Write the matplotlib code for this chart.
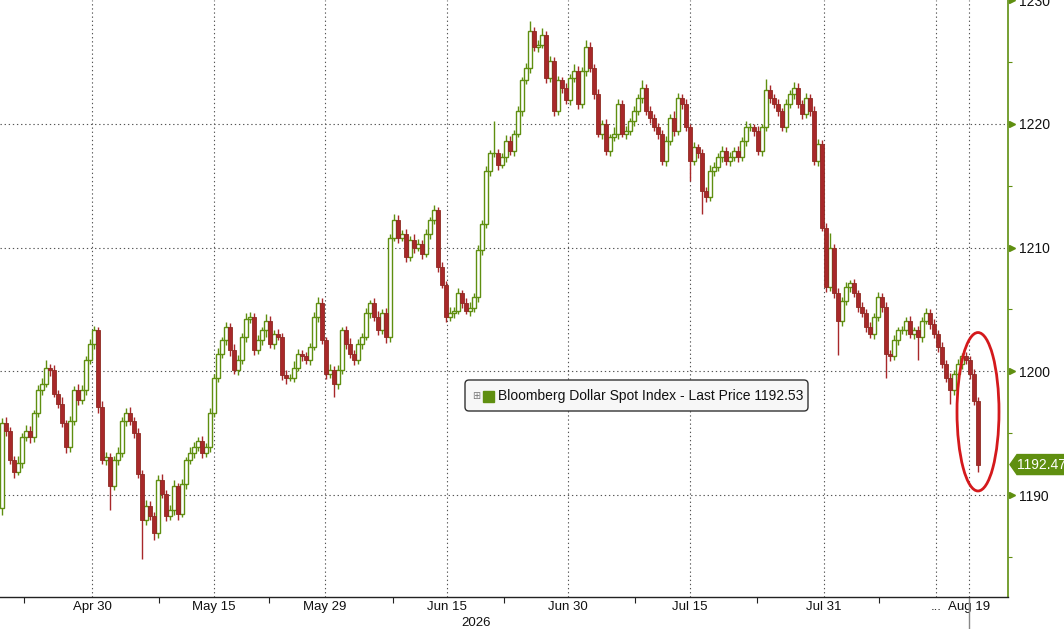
import numpy as np
import matplotlib
matplotlib.use('Agg')
import matplotlib.pyplot as plt
from matplotlib.patches import Ellipse, FancyBboxPatch, Polygon, Rectangle
from matplotlib.transforms import IdentityTransform, blended_transform_factory

# candle closes (roughly 2.75 candles per trading day)
closes = [
    1195.8, 1195.2, 1192.8, 1191.9, 1192.6, 1194.7, 1195.2, 1194.7, 1196.6, 1198.5,
    1199.0, 1200.3, 1200.1, 1198.2, 1197.4, 1195.8, 1193.9, 1196.0, 1198.5, 1197.7,
    1198.5, 1200.9, 1202.2, 1203.3, 1197.1, 1192.8, 1193.1, 1190.7, 1192.8, 1193.4,
    1196.0, 1196.6, 1196.0, 1195.0, 1191.7, 1188.0, 1189.1, 1188.3, 1186.9, 1191.2,
    1190.1, 1188.3, 1188.8, 1190.7, 1188.5, 1190.9, 1192.8, 1193.4, 1193.9, 1194.4,
    1193.4, 1193.9, 1196.6, 1199.5, 1201.4, 1202.5, 1203.6, 1201.7, 1200.1, 1200.9,
    1202.8, 1204.2, 1204.4, 1201.7, 1202.5, 1203.3, 1204.1, 1202.2, 1203.0, 1202.8,
    1199.7, 1199.5, 1199.5, 1200.3, 1201.4, 1201.2, 1200.9, 1202.0, 1204.4, 1205.5,
    1202.5, 1199.8, 1200.1, 1199.0, 1200.1, 1203.3, 1202.2, 1201.4, 1200.9, 1202.2,
    1202.8, 1204.7, 1205.5, 1204.4, 1203.3, 1204.7, 1202.8, 1210.8, 1212.2, 1210.8,
    1211.1, 1209.2, 1210.6, 1210.0, 1210.3, 1209.5, 1211.1, 1212.2, 1213.0, 1208.4,
    1207.0, 1204.4, 1204.7, 1204.9, 1206.3, 1205.5, 1204.9, 1205.1, 1206.0, 1209.8,
    1211.9, 1216.2, 1217.6, 1217.6, 1216.7, 1217.3, 1218.6, 1217.8, 1219.2, 1221.0,
    1223.5, 1224.5, 1227.5, 1226.2, 1226.4, 1227.2, 1223.7, 1225.1, 1221.0, 1223.5,
    1222.9, 1221.9, 1223.7, 1224.3, 1221.6, 1224.3, 1226.2, 1224.5, 1222.4, 1219.2,
    1220.0, 1217.8, 1218.9, 1219.2, 1221.6, 1219.2, 1219.4, 1220.2, 1221.0, 1222.1,
    1222.9, 1221.0, 1220.5, 1219.7, 1219.2, 1217.0, 1218.6, 1220.5, 1219.4, 1222.1,
    1221.6, 1219.7, 1217.0, 1218.1, 1217.6, 1214.6, 1214.1, 1216.2, 1216.5, 1217.3,
    1217.8, 1217.0, 1217.3, 1217.8, 1217.3, 1218.6, 1219.7, 1219.7, 1219.4, 1217.8,
    1219.7, 1222.7, 1222.1, 1221.6, 1221.0, 1219.7, 1221.6, 1222.4, 1222.9, 1221.6,
    1220.8, 1222.1, 1221.0, 1217.0, 1218.4, 1211.6, 1206.8, 1210.0, 1206.3, 1204.1,
    1205.7, 1206.8, 1207.1, 1206.3, 1205.2, 1204.7, 1203.6, 1203.0, 1204.4, 1206.0,
    1205.2, 1201.4, 1201.2, 1202.5, 1203.3, 1203.3, 1204.1, 1203.0, 1203.3, 1202.8,
    1204.1, 1204.7, 1203.8, 1203.0, 1202.0, 1200.6, 1199.5, 1198.5, 1199.8, 1200.6,
    1201.2, 1200.9, 1199.8, 1197.6, 1192.47,
]
first_open = 1189.0

# wick lengths above / below the body
wick_hi = [
    0.4, 0.5, 0.3, 0.4, 0.6, 0.3, 0.5, 0.4, 0.3, 0.4,
    0.5, 0.6, 0.3, 0.4, 0.3, 0.5, 0.3, 0.4, 0.3, 0.5,
    0.4, 0.3, 0.4, 0.4, 0.3, 0.5, 0.4, 0.3, 0.4, 0.5,
    0.3, 0.4, 0.5, 0.3, 0.4, 0.3, 0.5, 0.4, 0.3, 0.4,
    0.5, 0.3, 0.4, 0.5, 0.3, 0.4, 0.3, 0.5, 0.4, 0.3,
    0.4, 0.3, 0.4, 0.3, 0.5, 0.3, 0.4, 0.3, 0.5, 0.4,
    0.3, 0.5, 0.4, 0.3, 0.4, 0.3, 0.5, 0.4, 0.3, 0.4,
    0.3, 0.4, 0.3, 0.5, 0.4, 0.3, 0.4, 0.3, 0.4, 0.5,
    0.4, 0.3, 0.5, 0.3, 0.4, 0.3, 0.4, 0.5, 0.3, 0.4,
    0.3, 0.4, 0.3, 0.4, 0.5, 0.3, 0.4, 0.3, 0.5, 0.4,
    0.3, 0.4, 0.3, 0.5, 0.4, 0.3, 0.4, 0.3, 0.4, 0.3,
    0.4, 0.3, 0.5, 0.3, 0.4, 0.3, 0.4, 0.5, 0.3, 0.4,
    0.3, 0.4, 0.3, 2.6, 0.4, 0.3, 0.5, 0.4, 0.3, 0.4,
    0.3, 0.4, 0.8, 0.3, 0.4, 0.5, 0.3, 0.4, 0.3, 0.4,
    0.3, 0.4, 0.3, 0.5, 0.4, 0.3, 0.6, 0.4, 0.3, 0.4,
    0.3, 0.4, 0.3, 0.5, 0.4, 0.3, 0.4, 0.3, 0.4, 0.3,
    0.6, 0.3, 0.4, 0.3, 0.4, 0.3, 0.4, 0.3, 0.5, 0.4,
    0.3, 0.4, 0.3, 0.4, 0.3, 0.4, 0.3, 0.5, 0.4, 0.3,
    0.4, 0.3, 0.4, 0.3, 0.4, 0.3, 0.5, 0.4, 0.3, 0.4,
    0.3, 0.9, 0.4, 0.3, 0.4, 0.3, 0.4, 0.3, 0.5, 0.4,
    0.3, 0.4, 0.3, 0.4, 0.4, 0.3, 0.4, 1.2, 0.3, 0.4,
    0.3, 0.4, 0.3, 0.4, 0.3, 0.4, 0.3, 0.4, 0.3, 0.4,
    0.3, 0.4, 0.3, 0.4, 0.3, 0.4, 0.3, 0.4, 0.3, 0.4,
    0.3, 0.4, 0.3, 0.4, 0.3, 0.4, 0.3, 0.4, 0.3, 0.4,
    0.3, 0.4, 0.3, 0.4, 0.3,
]
wick_lo = [
    0.6, 0.4, 0.3, 0.5, 0.3, 0.4, 0.3, 0.5, 0.4, 0.3,
    0.4, 0.3, 0.5, 0.3, 0.4, 0.3, 0.5, 0.4, 0.3, 0.4,
    0.3, 0.4, 0.3, 0.4, 0.5, 0.3, 0.4, 1.9, 0.3, 0.4,
    0.3, 0.4, 0.3, 0.4, 0.3, 3.2, 0.4, 0.3, 0.5, 0.4,
    0.3, 0.4, 0.3, 0.4, 0.5, 0.3, 0.4, 0.3, 0.4, 0.3,
    0.4, 0.3, 0.4, 0.3, 0.4, 0.3, 0.4, 0.5, 0.3, 0.4,
    0.3, 0.4, 0.3, 0.4, 0.3, 0.4, 0.5, 0.3, 0.4, 0.3,
    0.4, 0.5, 0.3, 0.4, 0.3, 0.4, 0.3, 0.4, 0.3, 0.4,
    0.3, 0.4, 0.3, 1.1, 0.4, 0.3, 0.4, 0.3, 0.4, 0.3,
    0.4, 0.3, 0.4, 0.3, 0.4, 0.3, 0.5, 0.4, 0.3, 0.4,
    0.3, 0.4, 0.3, 0.4, 0.3, 0.4, 0.3, 0.4, 0.3, 0.4,
    0.3, 0.4, 0.3, 0.4, 0.3, 0.4, 0.3, 0.4, 0.3, 0.4,
    0.4, 0.3, 0.4, 0.3, 0.4, 0.3, 0.4, 0.3, 0.4, 0.3,
    0.4, 0.3, 0.4, 0.3, 0.4, 0.3, 0.4, 0.3, 0.4, 0.3,
    0.4, 0.3, 0.4, 0.3, 0.4, 0.3, 0.4, 0.3, 0.4, 0.3,
    0.4, 0.3, 0.4, 0.3, 0.4, 0.3, 0.4, 0.3, 0.4, 0.3,
    0.4, 0.3, 0.4, 0.3, 0.4, 0.3, 0.4, 0.3, 0.4, 0.3,
    0.4, 0.3, 1.6, 0.3, 0.4, 1.9, 0.4, 0.3, 0.4, 0.3,
    0.4, 0.3, 0.4, 0.3, 0.4, 0.3, 0.4, 0.3, 0.4, 0.3,
    0.4, 0.3, 0.4, 0.3, 0.4, 0.3, 0.4, 0.3, 0.4, 0.3,
    0.4, 0.3, 0.4, 0.3, 0.4, 0.3, 0.4, 0.3, 0.4, 2.8,
    0.4, 0.3, 0.4, 0.3, 0.4, 0.3, 0.4, 0.3, 0.4, 0.3,
    0.4, 1.9, 0.4, 0.3, 0.4, 0.3, 0.4, 0.3, 0.4, 1.9,
    0.4, 0.3, 0.4, 0.3, 0.4, 0.3, 0.4, 1.1, 0.4, 0.3,
    0.4, 0.3, 0.4, 0.3, 0.6,
]

# axis labels (positions are candle indices where the dates fall)
date_labels = ['Apr 30', 'May 15', 'May 29', 'Jun 15', 'Jun 30', 'Jul 15', 'Jul 31', '...', 'Aug 19']
date_pos = [22.5, 53, 80.75, 111.25, 141.5, 172, 205.5, 233.5, 241.75]
minor_pos = [5.5, 39.25, 66.75, 97.75, 125.5, 158.25, 188.75, 219.25]
y_ticks = [1190, 1200, 1210, 1220, 1230]
y_minor = [1185, 1195, 1205, 1215, 1225]
year_label = '2026'
last_tag = 1192.47
legend_text = 'Bloomberg Dollar Spot Index - Last Price 1192.53'

GREEN = '#5f8f10'
RED = '#a8282a'
GRID = '#555555'

plt.rcParams['font.family'] = ['Liberation Sans', 'DejaVu Sans']

closes = np.array(closes)
opens = np.concatenate([[first_open], closes[:-1]])
highs = np.maximum(opens, closes) + np.array(wick_hi)
lows = np.minimum(opens, closes) - np.array(wick_lo)
x = np.arange(len(closes))
up = closes >= opens

W, H = 1064, 629
fig = plt.figure(figsize=(W / 100, H / 100), dpi=100)
ax = fig.add_axes([0, 32 / H, 1008 / W, 597 / H])
ax.set_xlim(-0.5, 251.5)
ax.set_ylim(1181.77, 1230.0)

# dotted grid
for v in date_pos:
    ax.axvline(v, color=GRID, ls=(0, (1.2, 2.5)), lw=0.8, zorder=1)
for v in y_ticks[:-1]:
    ax.axhline(v, color=GRID, ls=(0, (1.2, 2.5)), lw=0.8, zorder=1)

# candles
wick_cols = [GREEN if u else RED for u in up]
ax.vlines(x, lows, highs, colors=wick_cols, lw=1.0, zorder=2)
ax.bar(x[up], (closes - opens)[up], bottom=opens[up], width=0.8,
       facecolor='white', edgecolor=GREEN, lw=1.0, zorder=3)
ax.bar(x[~up], (closes - opens)[~up], bottom=opens[~up], width=0.8,
       facecolor=RED, edgecolor='#8e2a22', lw=0.6, zorder=3)

# red circle round the last drop
ell = Ellipse((x[-1], (highs[-4:].max() + lows[-4:].min()) / 2), width=10.5, height=12.8,
              fill=False, edgecolor='#d4191c', lw=2.0, zorder=5)
ax.add_patch(ell)

# spines / ticks
for s in ['top', 'left']:
    ax.spines[s].set_visible(False)
ax.spines['bottom'].set_color('#222222')
ax.spines['bottom'].set_linewidth(1.0)
ax.spines['right'].set_color(GREEN)
ax.spines['right'].set_linewidth(1.2)

ax.set_xticks(date_pos, date_labels)
ax.set_xticks(minor_pos, minor=True)
ax.tick_params(axis='x', which='major', length=0, pad=3, labelsize=9.5, labelcolor='#111111')
ax.tick_params(axis='x', which='minor', length=4, width=0.8, color='#222222', direction='out')

ax.yaxis.tick_right()
ax.set_yticks(y_ticks)
ax.set_yticks(y_minor, minor=True)
ax.tick_params(axis='y', which='major', length=0, pad=8, labelsize=10, labelcolor='#111111')
ax.tick_params(axis='y', which='minor', length=3, width=0.8, color=GREEN, direction='out')

yax_tr = blended_transform_factory(ax.transAxes, ax.transData)
ax.plot([1.0 + 4 / 1008] * len(y_ticks), y_ticks, ls='none', marker='>', ms=5,
        color=GREEN, transform=yax_tr, clip_on=False, zorder=6)

# grey marker under the last date
xax_tr = blended_transform_factory(ax.transData, ax.transAxes)
ax.plot([date_pos[-1], date_pos[-1]], [0, -32 / 597], color='#888888', lw=1,
        transform=xax_tr, clip_on=False)

fig.text(476 / W, 1 - 623 / H, year_label, ha='center', va='center', fontsize=9.5, color='#111111')

# last price tag
fig.canvas.draw()
ty = ax.transData.transform((0, last_tag))[1]
tag = Polygon([(1010, ty), (1017, ty + 10), (1064, ty + 10), (1064, ty - 10), (1017, ty - 10)],
              closed=True, facecolor=GREEN, edgecolor=GREEN, transform=IdentityTransform())
fig.add_artist(tag)
fig.text(1017 / W, ty / H, f'{last_tag:.2f}', ha='left', va='center', fontsize=10, color='white')

# legend box
box = FancyBboxPatch((465, H - 411), 343, 31, boxstyle='round,pad=0,rounding_size=4',
                     facecolor='#f7f7f7', edgecolor='#333333', lw=1.0, transform=IdentityTransform())
fig.add_artist(box)
fig.add_artist(Rectangle((483, H - 402), 11, 11, facecolor=GREEN, edgecolor=GREEN,
                         transform=IdentityTransform()))
fig.text(476 / W, 1 - 396 / H, '\u229e', ha='center', va='center', fontsize=7, color='#777777',
         family=['DejaVu Sans'])
fig.text(498 / W, 1 - 396 / H, legend_text, ha='left', va='center', fontsize=10, color='#111111')

fig.savefig('out.png', dpi=100)
